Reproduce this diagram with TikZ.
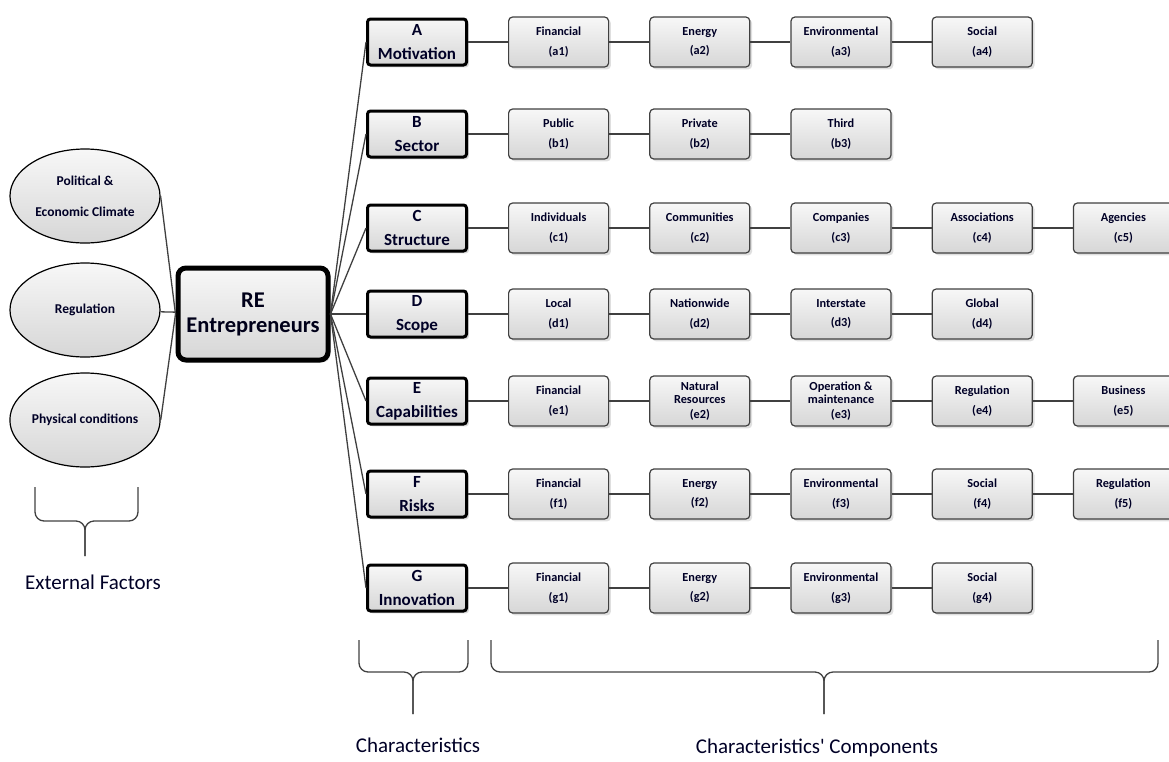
\documentclass[tikz,border=0pt]{standalone}
\usepackage{fontspec}
\setmainfont{Carlito}
\usetikzlibrary{positioning, shapes.geometric, shadows}

\begin{document}
\begin{tikzpicture}[
    x=1pt, y=1pt,
    node distance=40pt and 40pt, % Vertical and horizontal spacing
    comp/.style={draw=black!75, line width=1.2pt, rounded corners=4pt, minimum width=100, minimum height=50,
        top color=gray!6, bottom color=gray!32, align=center, text=black!85!blue,
        font=\bfseries\fontsize{12.3}{13.5}\selectfont, drop shadow={opacity=0.25}},
    charbox/.style={draw, line width=3pt, rounded corners=3pt, minimum width=99, minimum height=46,
        top color=gray!6, bottom color=gray!32, align=center, text=black!85!blue,
        font=\bfseries\fontsize{17}{24}\selectfont, drop shadow={opacity=0.3}},
    hub/.style={draw, line width=5pt, rounded corners=8pt, minimum width=150, minimum height=92,
        top color=gray!6, bottom color=gray!32, align=center, text=black!90!blue,
        font=\bfseries\fontsize{22.5}{25}\selectfont, drop shadow={opacity=0.3}},
    factor/.style={draw, ellipse, line width=1.2pt, minimum width=150, minimum height=94, inner sep=0pt,
        top color=gray!6, bottom color=gray!32, align=center, text=black!85!blue,
        font=\bfseries\fontsize{13.5}{15}\selectfont},
    caption/.style={font=\fontsize{21}{23}\selectfont, text=black!85!blue},
    link/.style={draw=black!75, line width=1.3pt}
]
\useasboundingbox (0,0) rectangle (1169,-761);

%%%%% Hub and external factors
\node[hub] (re) at (253,-314) {RE\\Entrepreneurs};

\node[factor] (pol) at (85,-196) {Political \&\\[16pt]Economic Climate};
\node[factor] (reg) at (85,-310) {Regulation};
\node[factor] (phy) at (85,-420) {Physical conditions};

%  Characteristics
\node[charbox] (A) at (417,-42)  {A\\Motivation};
\node[charbox] (B) at (417,-134) {B\\Sector};
\node[charbox] (C) at (417,-228) {C\\Structure};
\node[charbox] (D) at (417,-314) {D\\Scope};
\node[charbox] (E) at (417,-401) {E\\Capabilities};
\node[charbox] (F) at (417,-494) {F\\Risks};
\node[charbox] (G) at (417,-588) {G\\Innovation};

% Motivation components
\node[comp, right=of A]  (a1) {Financial\\[6pt](a1)};
\node[comp, right=of a1] (a2) {Energy\\[6pt](a2)};
\node[comp, right=of a2] (a3) {Environmental\\[6pt](a3)};
\node[comp, right=of a3] (a4) {Social\\[6pt](a4)};

% Sector components
\node[comp, right=of B]  (b1) {Public\\[6pt](b1)};
\node[comp, right=of b1] (b2) {Private\\[6pt](b2)};
\node[comp, right=of b2] (b3) {Third\\[6pt](b3)};

% Structure components
\node[comp, right=of C]  (c1) {Individuals\\[6pt](c1)};
\node[comp, right=of c1] (c2) {Communities\\[6pt](c2)};
\node[comp, right=of c2] (c3) {Companies\\[6pt](c3)};
\node[comp, right=of c3] (c4) {Associations\\[6pt](c4)};
\node[comp, right=of c4] (c5) {Agencies\\[6pt](c5)};

% Scope components
\node[comp, right=of D]  (d1) {Local\\[6pt](d1)};
\node[comp, right=of d1] (d2) {Nationwide\\[6pt](d2)};
\node[comp, right=of d2] (d3) {Interstate\\[6pt](d3)};
\node[comp, right=of d3] (d4) {Global\\[6pt](d4)};

% Capabilities components
\node[comp, right=of E]  (e1) {Financial\\[6pt](e1)};
\node[comp, right=of e1] (e2) {Natural\\Resources\\[1pt](e2)};
\node[comp, right=of e2] (e3) {Operation \&\\maintenance\\[1pt](e3)};
\node[comp, right=of e3] (e4) {Regulation\\[6pt](e4)};
\node[comp, right=of e4] (e5) {Business\\[6pt](e5)};

% Risks components
\node[comp, right=of F]  (f1) {Financial\\[6pt](f1)};
\node[comp, right=of f1] (f2) {Energy\\[6pt](f2)};
\node[comp, right=of f2] (f3) {Environmental\\[6pt](f3)};
\node[comp, right=of f3] (f4) {Social\\[6pt](f4)};
\node[comp, right=of f4] (f5) {Regulation\\[6pt](f5)};

% Innovation components
\node[comp, right=of G]  (g1) {Financial\\[6pt](g1)};
\node[comp, right=of g1] (g2) {Energy\\[6pt](g2)};
\node[comp, right=of g2] (g3) {Environmental\\[6pt](g3)};
\node[comp, right=of g3] (g4) {Social\\[6pt](g4)};

%  Captions
\node[caption] (extlab)  at (93,-582)  {External Factors};
\node[caption] (charlab) at (418,-745) {Characteristics};
\node[caption] (complab) at (817,-748) {Characteristics\textquotesingle\ Components};

%  Draw links between nodes
\draw[link] (pol.east) -- (re.west);
\draw[link] (reg) -- (re);
\draw[link] (phy.east) -- (re.west);

\draw[link] (re.east) -- (A.west);
\draw[link] (re.east) -- (B.west);
\draw[link] (re.east) -- (C.west);
\draw[link] (re.east) -- (D.west);
\draw[link] (re.east) -- (E.west);
\draw[link] (re.east) -- (F.west);
\draw[link] (re.east) -- (G.west);

\draw[link] (A) -- (a1);
\draw[link] (a1) -- (a2);
\draw[link] (a2) -- (a3);
\draw[link] (a3) -- (a4);

\draw[link] (B) -- (b1);
\draw[link] (b1) -- (b2);
\draw[link] (b2) -- (b3);

\draw[link] (C) -- (c1);
\draw[link] (c1) -- (c2);
\draw[link] (c2) -- (c3);
\draw[link] (c3) -- (c4);
\draw[link] (c4) -- (c5);

\draw[link] (D) -- (d1);
\draw[link] (d1) -- (d2);
\draw[link] (d2) -- (d3);
\draw[link] (d3) -- (d4);

\draw[link] (E) -- (e1);
\draw[link] (e1) -- (e2);
\draw[link] (e2) -- (e3);
\draw[link] (e3) -- (e4);
\draw[link] (e4) -- (e5);

\draw[link] (F) -- (f1);
\draw[link] (f1) -- (f2);
\draw[link] (f2) -- (f3);
\draw[link] (f3) -- (f4);
\draw[link] (f4) -- (f5);

\draw[link] (G) -- (g1);
\draw[link] (g1) -- (g2);
\draw[link] (g2) -- (g3);
\draw[link] (g3) -- (g4);

%  Braces
\draw[link, rounded corners=9pt] (35,-487) |- (85,-521) -- (85,-556);
\draw[link, rounded corners=9pt] (138,-487) |- (85,-521) -- (85,-556);

\draw[link, rounded corners=9pt] (359,-640) |- (413,-672) -- (413,-714);
\draw[link, rounded corners=9pt] (468,-640) |- (413,-672) -- (413,-714);

\draw[link, rounded corners=9pt] (491,-640) |- (824,-672) -- (824,-714);
\draw[link, rounded corners=9pt] (1158,-640) |- (824,-672) -- (824,-714);

\end{tikzpicture}
\end{document}
